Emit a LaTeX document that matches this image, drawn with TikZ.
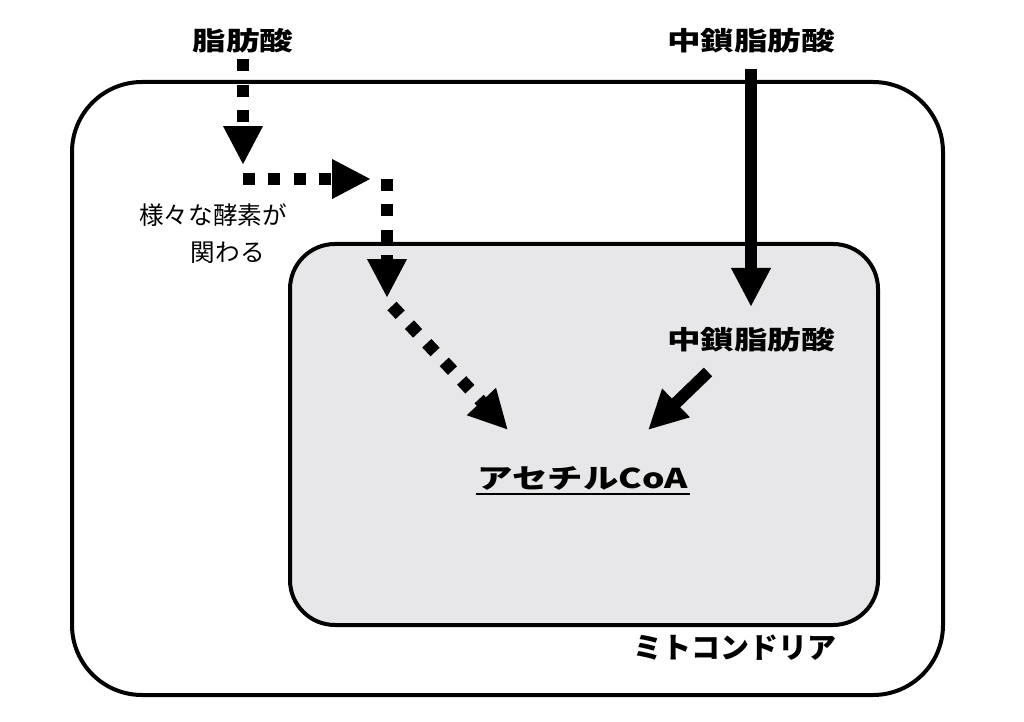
\documentclass[tikz,border=0pt]{standalone}
\usepackage{fontspec}
\setmainfont{Noto Sans CJK JP}
\newfontfamily\widejp{Noto Sans CJK JP}[FakeStretch=1.3]
\usetikzlibrary{arrows.meta, positioning}
\definecolor{innergray}{RGB}{231,230,232}

\begin{document}
\begin{tikzpicture}[x=0.02cm,y=-0.02cm,>={Triangle[length=0.78cm,width=0.74cm]},
	fattxt/.style={font=\widejp\bfseries\fontsize{14.7}{18}\selectfont,inner sep=3pt},
	enztxt/.style={font=\fontsize{14}{21}\selectfont,align=center,inner sep=0pt},
	coatxt/.style={font=\widejp\bfseries\fontsize{15.5}{19}\selectfont,inner sep=1pt},
	mitotxt/.style={font=\bfseries\fontsize{16.5}{20}\selectfont,inner sep=0pt},
	dotarrow/.style={->,line width=0.25cm,dash pattern=on 0.24cm off 0.27cm},
	solidarrow/.style={->,line width=0.24cm}]

	\useasboundingbox (0,0) rectangle (1024,722);

	% mitochondria
	\draw[line width=0.08cm,rounded corners=1.4cm] (72,82) rectangle (943,695);
	\draw[line width=0.08cm,rounded corners=0.9cm,fill=innergray] (290,244) rectangle (878,625);

	\node[fattxt] (fa) at (243,41) {脂肪酸};
	\node[fattxt] (mcfa) at (751,41) {中鎖脂肪酸};
	\node[fattxt] (mcfain) at (751,340) {中鎖脂肪酸};
	\node[enztxt] (enz) at (213,234) {様々な酵素が\\\hspace*{1.2em}関わる};
	\node[coatxt] (acoa) at (583,478) {アセチルCoA};
	\node[mitotxt] (mito) at (735,648) {ミトコンドリア};
	\draw[line width=1.1pt] ([yshift=-1pt]acoa.south west) -- ([yshift=-1pt]acoa.south east);

	\coordinate (d1) at (243,165);
	\coordinate (d2) at (243,179);
	\coordinate (d3) at (371,179);
	\coordinate (d4) at (387,179);
	\coordinate (d5) at (387,298);
	\coordinate (d6) at (392,306);
	\coordinate (d7) at (508,430);
	\coordinate (s1) at (708,372);
	\coordinate (s2) at (648,430);

	\path[dotarrow]
	(fa) edge (d1)
	(d2) edge (d3)
	(d4) edge (d5)
	(d6) edge (d7)
	;
	\path[solidarrow]
	(mcfa) edge [shorten <=0.2cm,shorten >=0.3cm] (mcfain)
	(s1) edge (s2)
	;
\end{tikzpicture}
\end{document}
